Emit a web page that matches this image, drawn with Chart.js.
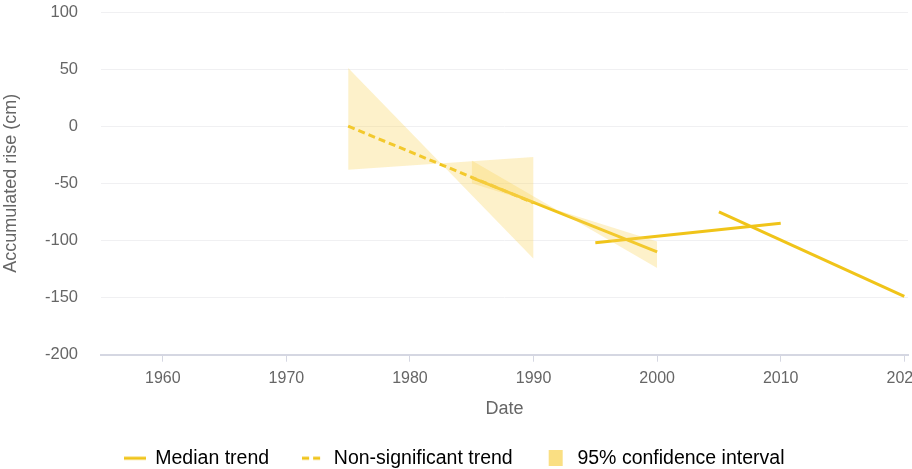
<!DOCTYPE html>
<html>
<head>
<meta charset="utf-8">
<script src="https://cdn.jsdelivr.net/npm/chart.js@4.4.1/dist/chart.umd.min.js"></script>
<style>
  html, body { margin: 0; padding: 0; background: #fff; overflow: hidden; }
  #wrap { width: 912px; height: 469px; position: relative; }
</style>
</head>
<body>
<div id="wrap"><canvas id="chart"></canvas></div>
<script>
// Trend segments (year, accumulated rise in cm)
const nonSigYears = [1975, 1990];
const nonSigValues = [0, -67];

const trendAYears = [1985, 2000];
const trendAValues = [-45, -110];
const trendBYears = [1995, 2010];
const trendBValues = [-102, -85];
const trendCYears = [2005, 2020];
const trendCValues = [-75, -149];

// 95% confidence bands: the two bounding lines of each band, start and end values
const band1Years = [1975, 1990];
const band1EdgeA = [51, -116];
const band1EdgeB = [-38, -27];
const band2Years = [1985, 2000];
const band2EdgeA = [-30, -124];
const band2EdgeB = [-50, -101];

// Axis ticks
const xTicks = [1960, 1970, 1980, 1990, 2000, 2010, 2020];
const yTicks = [100, 50, 0, -50, -100, -150, -200];

const legendLabels = ['Median trend', 'Non-significant trend', '95% confidence interval'];

const LINE = '#f0c419';
const BAND = 'rgba(248, 212, 90, 0.32)';
const BAND_KEY = 'rgba(248, 212, 90, 0.75)';
const FONT = "'Liberation Sans', Arial, sans-serif";

const pts = (xs, ys) => xs.map((x, i) => ({ x: x, y: ys[i] }));

// Small swatches used as legend symbols
function swatch(kind) {
  const c = document.createElement('canvas');
  c.width = 22; c.height = 16;
  const g = c.getContext('2d');
  if (kind === 'box') {
    g.fillStyle = BAND_KEY;
    g.fillRect(3, 0, 14, 16);
  } else {
    g.strokeStyle = LINE;
    g.lineWidth = 3;
    if (kind === 'dash') g.setLineDash([7, 4]);
    g.beginPath(); g.moveTo(0, 8); g.lineTo(22, 8); g.stroke();
  }
  return c;
}
const swatches = [swatch('line'), swatch('dash'), swatch('box')];

const bandStyle = { borderWidth: 0, pointRadius: 0, backgroundColor: BAND, tension: 0 };
const lineStyle = { borderColor: LINE, borderWidth: 3, pointRadius: 0, fill: false, tension: 0, borderCapStyle: 'butt' };

new Chart(document.getElementById('chart'), {
  type: 'line',
  data: {
    datasets: [
      { ...bandStyle, data: pts(band1Years, band1EdgeA), fill: false },
      { ...bandStyle, data: pts(band1Years, band1EdgeB), fill: '-1' },
      { ...bandStyle, data: pts(band2Years, band2EdgeA), fill: false },
      { ...bandStyle, data: pts(band2Years, band2EdgeB), fill: '-1' },
      { ...lineStyle, data: pts(nonSigYears, nonSigValues), borderDash: [7, 4] },
      { ...lineStyle, data: pts(trendAYears, trendAValues) },
      { ...lineStyle, data: pts(trendBYears, trendBValues) },
      { ...lineStyle, data: pts(trendCYears, trendCValues) }
    ]
  },
  options: {
    responsive: true,
    maintainAspectRatio: false,
    animation: false,
    layout: { padding: { top: 12, right: 4, bottom: -9, left: 0 } },
    scales: {
      x: {
        type: 'linear',
        min: 1955,
        max: 2020.3,
        afterBuildTicks: s => { s.ticks = xTicks.map(v => ({ value: v })); },
        afterFit: s => { s.paddingRight = 0; s.paddingLeft = 0; },
        ticks: {
          color: '#666',
          font: { family: FONT, size: 16 },
          padding: 7,
          maxRotation: 0,
          callback: v => String(v)
        },
        grid: { drawOnChartArea: false, drawTicks: true, tickLength: 7, color: '#d5d7e2' },
        border: { color: '#d5d7e2', width: 2 },
        title: { display: true, text: 'Date', color: '#666', font: { family: FONT, size: 18 }, padding: { top: 3, bottom: -4 } }
      },
      y: {
        min: -200,
        max: 100,
        afterBuildTicks: s => { s.ticks = yTicks.map(v => ({ value: v })); },
        afterFit: s => { s.width = 101; s.paddingTop = 0; s.paddingBottom = 0; },
        ticks: {
          color: '#666',
          font: { family: FONT, size: 16.5 },
          padding: 23
        },
        grid: { drawTicks: false, color: '#f0f0f2' },
        border: { display: false },
        title: { display: true, text: 'Accumulated rise (cm)', color: '#666', font: { family: FONT, size: 18 }, padding: { top: 0, bottom: 0 } }
      }
    },
    plugins: {
      tooltip: { enabled: false },
      legend: {
        position: 'bottom',
        labels: {
          usePointStyle: true,
          pointStyleWidth: 22,
          boxHeight: 16,
          padding: 33,
          color: '#555',
          font: { family: FONT, size: 19.5 },
          generateLabels: () => legendLabels.map((t, i) => ({
            text: t,
            pointStyle: swatches[i],
            fillStyle: 'transparent',
            strokeStyle: 'transparent',
            lineWidth: 0,
            hidden: false,
            datasetIndex: i
          }))
        }
      }
    }
  }
});
</script>
</body>
</html>
